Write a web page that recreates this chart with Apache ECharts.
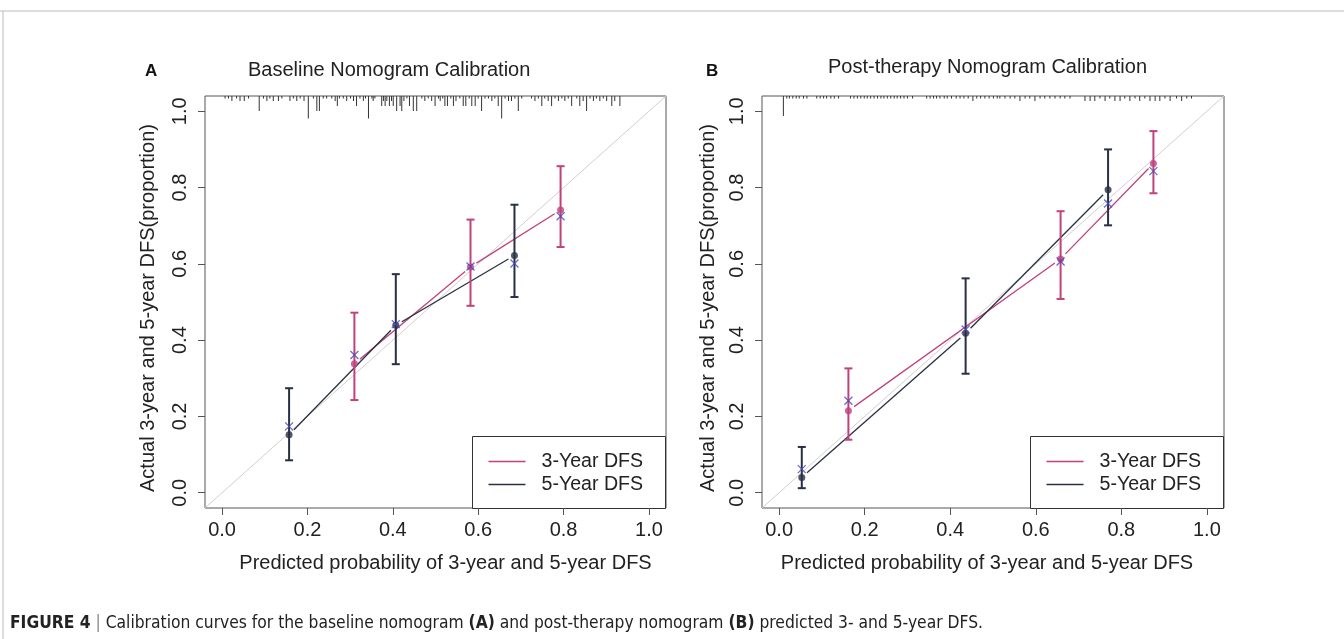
<!DOCTYPE html>
<html>
<head>
<meta charset="utf-8">
<script src="https://cdn.jsdelivr.net/npm/echarts@6/dist/echarts.min.js"></script>
<style>
  html, body { margin: 0; padding: 0; background: #fff; }
  #chart { width: 1344px; height: 639px; }
</style>
</head>
<body>
<div id="chart"></div>
<script>
// axis values shared by both panels
const axisMin = -0.04;
const axisMax = 1.04;
const tickValues = [0, 0.2, 0.4, 0.6, 0.8, 1.0];

// Panel A - baseline nomogram
const a3Pred = [0.310, 0.582, 0.793];
const a3Obs  = [0.338, 0.592, 0.741];
const a3Lo   = [0.243, 0.490, 0.644];
const a3Hi   = [0.472, 0.716, 0.856];
const a3Corr = [0.361, 0.593, 0.725];
const a5Pred = [0.157, 0.407, 0.685];
const a5Obs  = [0.152, 0.439, 0.622];
const a5Lo   = [0.085, 0.337, 0.513];
const a5Hi   = [0.274, 0.573, 0.755];
const a5Corr = [0.174, 0.442, 0.601];

// Panel B - post-therapy nomogram
const b3Pred = [0.162, 0.658, 0.875];
const b3Obs  = [0.215, 0.613, 0.863];
const b3Lo   = [0.139, 0.508, 0.785];
const b3Hi   = [0.326, 0.738, 0.948];
const b3Corr = [0.241, 0.606, 0.843];
const b5Pred = [0.053, 0.436, 0.769];
const b5Obs  = [0.040, 0.418, 0.794];
const b5Lo   = [0.012, 0.312, 0.701];
const b5Hi   = [0.120, 0.562, 0.900];
const b5Corr = [0.062, 0.428, 0.758];

// spike histogram of predicted risk (top rug), position + count
const rugAX = [0.007,0.015,0.023,0.034,0.042,0.052,0.062,0.087,0.097,0.105,0.112,0.120,0.132,0.140,0.159,0.167,0.175,0.183,0.192,0.202,
  0.214,0.222,0.228,0.237,0.245,0.257,0.265,0.270,0.275,0.284,0.292,0.301,0.308,0.315,0.323,0.331,0.336,0.343,0.351,0.354,0.358,
  0.374,0.378,0.382,0.386,0.392,0.397,0.401,0.409,0.417,0.421,0.426,0.433,0.439,0.448,0.456,0.468,0.475,0.483,0.491,0.499,0.507,
  0.511,0.517,0.522,0.528,0.536,0.542,0.548,0.557,0.565,0.571,0.579,0.585,0.593,0.600,0.608,0.616,0.624,0.632,0.639,0.647,0.655,
  0.663,0.671,0.678,0.686,0.694,0.702,0.725,0.733,0.741,0.749,0.756,0.764,0.772,0.780,0.788,0.796,0.803,0.811,0.819,0.831,0.838,
  0.846,0.854,0.862,0.870,0.877,0.885,0.893,0.901,0.913,0.920,0.932];
const rugAN = [1,1,2,1,2,2,1,6,1,2,1,2,2,1,2,1,2,1,2,9,
  1,6,6,1,1,1,2,4,1,1,2,1,2,4,1,2,1,9,1,2,1,
  4,2,4,2,4,2,4,6,4,6,2,1,4,6,6,1,2,1,2,4,1,
  2,1,4,4,1,4,2,1,4,4,1,4,4,1,6,1,1,2,1,4,9,
  1,2,2,1,6,1,1,2,1,4,1,2,4,1,2,1,2,1,4,1,4,
  2,6,1,2,1,2,1,2,4,2,4];
const rugBX = [0.010,0.018,0.024,0.032,0.040,0.047,0.057,0.065,0.088,0.096,0.104,0.111,0.121,0.129,0.139,0.167,0.175,0.183,0.191,0.199,
  0.206,0.214,0.222,0.230,0.238,0.245,0.253,0.261,0.269,0.276,0.284,0.292,0.300,0.312,0.345,0.353,0.361,0.368,0.376,0.386,0.393,
  0.403,0.414,0.423,0.432,0.442,0.453,0.462,0.471,0.481,0.491,0.501,0.510,0.516,0.528,0.540,0.551,0.563,0.575,0.586,0.598,0.610,
  0.621,0.633,0.645,0.657,0.668,0.680,0.715,0.727,0.738,0.750,0.762,0.773,0.785,0.797,0.808,0.820,0.832,0.843,0.855,0.867,0.879,
  0.890,0.902,0.914,0.929,0.941,0.953,0.964];
const rugBN = [8,1,1,1,1,1,1,1,1,1,1,1,1,1,1,1,1,1,1,1,
  1,1,1,1,1,1,1,1,1,1,1,1,1,1,1,1,1,1,1,1,1,
  1,1,1,1,1,2,1,1,1,1,1,1,1,1,1,1,2,1,1,2,1,
  1,1,1,1,1,1,2,2,2,1,2,1,2,2,1,2,1,2,1,2,2,
  2,1,2,1,2,1,1];

const colPink = '#C0417C';
const colDark = '#283043';
const colBlue = '#4848B8';
const colFrame = '#555';
const fontFam = '"Liberation Sans", Arial, sans-serif';
const capFont = '"Liberation Sans Narrow", "DejaVu Sans Condensed", sans-serif';
const rugUnit = 2.5;

function zip() {
  const cols = Array.prototype.slice.call(arguments);
  return cols[0].map((_, i) => cols.map(c => c[i]));
}
function segments(xs, ys) {
  const out = [];
  for (let i = 0; i < xs.length - 1; i++) out.push([xs[i], ys[i], xs[i + 1], ys[i + 1]]);
  return out;
}

function errorBarItem(color) {
  return function (params, api) {
    const x = api.value(0);
    const lo = api.coord([x, api.value(1)]);
    const hi = api.coord([x, api.value(2)]);
    const cap = 4;
    const style = {stroke: color, lineWidth: 2};
    return {
      type: 'group',
      children: [
        {type: 'line', shape: {x1: lo[0], y1: lo[1], x2: hi[0], y2: hi[1]}, style: style},
        {type: 'line', shape: {x1: lo[0] - cap, y1: lo[1], x2: lo[0] + cap, y2: lo[1]}, style: style},
        {type: 'line', shape: {x1: hi[0] - cap, y1: hi[1], x2: hi[0] + cap, y2: hi[1]}, style: style}
      ]
    };
  };
}
// R type="b": the line stops short of each point
function segmentItem(color) {
  return function (params, api) {
    const p = api.coord([api.value(0), api.value(1)]);
    const q = api.coord([api.value(2), api.value(3)]);
    const dx = q[0] - p[0], dy = q[1] - p[1];
    const g = 7 / Math.sqrt(dx * dx + dy * dy);
    return {
      type: 'line',
      shape: {x1: p[0] + dx * g, y1: p[1] + dy * g, x2: q[0] - dx * g, y2: q[1] - dy * g},
      style: {stroke: color, lineWidth: 1.3}
    };
  };
}
function rugItem(params, api) {
  const p = api.coord([api.value(0), axisMax]);
  return {
    type: 'line',
    shape: {x1: p[0], y1: p[1], x2: p[0], y2: p[1] + api.value(1) * rugUnit},
    style: {stroke: '#333', lineWidth: 1}
  };
}

function xAxisFor(idx, namePad) {
  return {
    type: 'value', gridIndex: idx, min: axisMin, max: axisMax,
    name: 'Predicted probability of 3-year and 5-year DFS',
    nameLocation: 'middle', nameGap: 45,
    nameTextStyle: {fontSize: 20, color: '#222', fontFamily: fontFam, padding: namePad},
    axisLine: {show: false, onZero: false},
    axisTick: {show: true, inside: false, length: 7, customValues: tickValues, lineStyle: {color: colFrame}},
    axisLabel: {customValues: tickValues, fontSize: 20, color: '#222', fontFamily: fontFam, margin: 12,
      formatter: v => v.toFixed(1)},
    splitLine: {show: false}
  };
}
function yAxisFor(idx, nameGap) {
  return {
    type: 'value', gridIndex: idx, min: axisMin, max: axisMax,
    name: 'Actual 3-year and 5-year DFS(proportion)',
    nameLocation: 'middle', nameGap: nameGap,
    nameTextStyle: {fontSize: 20, color: '#222', fontFamily: fontFam, padding: [0, 0, 0, -12]},
    axisLine: {show: false, onZero: false},
    axisTick: {show: true, inside: false, length: 7, customValues: tickValues, lineStyle: {color: colFrame}},
    axisLabel: {customValues: tickValues, fontSize: 20, color: '#222', fontFamily: fontFam, margin: 15, rotate: 90,
      formatter: v => v.toFixed(1)},
    splitLine: {show: false}
  };
}

function panelSeries(idx, s3, s5, rugX, rugN) {
  const ax = {xAxisIndex: idx, yAxisIndex: idx};
  return [
    Object.assign({type: 'line', data: [[axisMin, axisMin], [axisMax, axisMax]], showSymbol: false,
      lineStyle: {color: '#D6CDCD', width: 1}, silent: true, z: 1}, ax),
    Object.assign({type: 'custom', renderItem: rugItem, data: zip(rugX, rugN), clip: false, silent: true, z: 2}, ax),
    Object.assign({type: 'custom', name: '3-Year DFS', renderItem: segmentItem(colPink),
      data: segments(s3.pred, s3.obs), silent: true, z: 3}, ax),
    Object.assign({type: 'custom', name: '5-Year DFS', renderItem: segmentItem(colDark),
      data: segments(s5.pred, s5.obs), silent: true, z: 3}, ax),
    Object.assign({type: 'custom', renderItem: errorBarItem(colPink), data: zip(s3.pred, s3.lo, s3.hi), silent: true, z: 4}, ax),
    Object.assign({type: 'custom', renderItem: errorBarItem(colDark), data: zip(s5.pred, s5.lo, s5.hi), silent: true, z: 4}, ax),
    Object.assign({type: 'scatter', data: zip(s3.pred, s3.obs), symbolSize: 7, itemStyle: {color: colPink}, silent: true, z: 5}, ax),
    Object.assign({type: 'scatter', data: zip(s5.pred, s5.obs), symbolSize: 7, itemStyle: {color: colDark}, silent: true, z: 5}, ax),
    Object.assign({type: 'scatter', data: zip(s3.pred, s3.corr).concat(zip(s5.pred, s5.corr)),
      symbol: 'path://M0,0L10,10M10,0L0,10', symbolSize: 8,
      itemStyle: {color: 'none', borderColor: colBlue, borderWidth: 1.3}, silent: true, z: 6}, ax)
  ];
}

function legendBox(x, y) {
  return {
    type: 'group', left: x, top: y, children: [
      {type: 'rect', shape: {x: 0, y: 0, width: 193, height: 72}, style: {fill: '#fff', stroke: '#333', lineWidth: 1}},
      {type: 'line', shape: {x1: 16, y1: 25, x2: 53, y2: 25}, style: {stroke: colPink, lineWidth: 1.5}},
      {type: 'line', shape: {x1: 16, y1: 48, x2: 53, y2: 48}, style: {stroke: colDark, lineWidth: 1.5}},
      {type: 'text', x: 69, y: 25, style: {text: '3-Year DFS', font: '19.6px ' + fontFam, fill: '#222', verticalAlign: 'middle'}},
      {type: 'text', x: 69, y: 48, style: {text: '5-Year DFS', font: '19.6px ' + fontFam, fill: '#222', verticalAlign: 'middle'}}
    ]
  };
}

const chart = echarts.init(document.getElementById('chart'));
const option = {
  animation: false,
  backgroundColor: '#fff',
  title: [
    {text: 'A', left: 140, top: 58, textStyle: {fontSize: 17, fontWeight: 'bold', color: '#111', fontFamily: fontFam}},
    {text: 'Baseline Nomogram Calibration', left: 243, top: 55, textStyle: {fontSize: 20, fontWeight: 'normal', color: '#222', fontFamily: fontFam}},
    {text: 'B', left: 701, top: 58, textStyle: {fontSize: 17, fontWeight: 'bold', color: '#111', fontFamily: fontFam}},
    {text: 'Post-therapy Nomogram Calibration', left: 823, top: 52, textStyle: {fontSize: 20, fontWeight: 'normal', color: '#222', fontFamily: fontFam}}
  ],
  grid: [
    {left: 205, top: 96, width: 461, height: 412, show: true, borderColor: colFrame, borderWidth: 1},
    {left: 762, top: 96, width: 462, height: 412, show: true, borderColor: colFrame, borderWidth: 1}
  ],
  xAxis: [xAxisFor(0, [0, 0, 0, 20]), xAxisFor(1, [0, 12, 0, 0])],
  yAxis: [yAxisFor(0, 47), yAxisFor(1, 44)],
  series: panelSeries(0,
      {pred: a3Pred, obs: a3Obs, lo: a3Lo, hi: a3Hi, corr: a3Corr},
      {pred: a5Pred, obs: a5Obs, lo: a5Lo, hi: a5Hi, corr: a5Corr}, rugAX, rugAN)
    .concat(panelSeries(1,
      {pred: b3Pred, obs: b3Obs, lo: b3Lo, hi: b3Hi, corr: b3Corr},
      {pred: b5Pred, obs: b5Obs, lo: b5Lo, hi: b5Hi, corr: b5Corr}, rugBX, rugBN)),
  graphic: [
    {type: 'line', shape: {x1: 0, y1: 11, x2: 1344, y2: 11}, style: {stroke: '#bbb', lineWidth: 1}},
    {type: 'line', shape: {x1: 3, y1: 11, x2: 3, y2: 639}, style: {stroke: '#bbb', lineWidth: 1}},
    legendBox(472, 436),
    legendBox(1030, 436),
    {
      type: 'text', left: 10, top: 615,
      style: {
        text: '{b|FIGURE 4} {s||} Calibration curves for the baseline nomogram {b|(A)} and post-therapy nomogram {b|(B)} predicted 3- and 5-year DFS.',
        font: '17.3px ' + capFont,
        fill: '#222',
        rich: {
          b: {fontWeight: 'bold', fontSize: 17.3, fontFamily: capFont, fill: '#222'},
          s: {fontSize: 17.3, fill: '#888', fontFamily: capFont}
        }
      }
    }
  ]
};
chart.setOption(option);
</script>
</body>
</html>
